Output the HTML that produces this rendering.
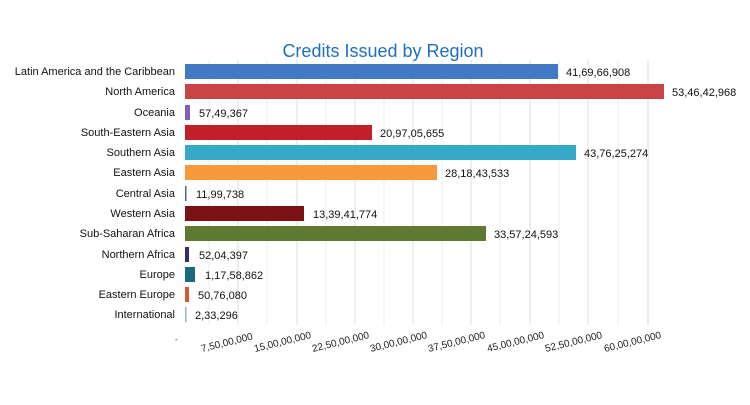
<!DOCTYPE html>
<html><head><style>
body{margin:0;width:750px;height:400px;background:#fff;overflow:hidden;font-family:"Liberation Sans",sans-serif}
</style></head><body>
<svg width="750" height="400" xmlns="http://www.w3.org/2000/svg" font-family="Liberation Sans, sans-serif">
<rect width="750" height="400" fill="#fff"/>
<text x="383" y="57" font-size="18" fill="#1f6fbf" text-anchor="middle">Credits Issued by Region</text>
<g stroke="#eeeeee" stroke-width="1">
<line x1="209" y1="60" x2="209" y2="325"/><line x1="267" y1="60" x2="267" y2="325"/><line x1="326" y1="60" x2="326" y2="325"/><line x1="384" y1="60" x2="384" y2="325"/><line x1="442" y1="60" x2="442" y2="325"/><line x1="500" y1="60" x2="500" y2="325"/><line x1="559" y1="60" x2="559" y2="325"/><line x1="618" y1="60" x2="618" y2="325"/>
</g>
<g stroke="#dddddd" stroke-width="1">
<line x1="238" y1="60" x2="238" y2="325"/><line x1="297" y1="60" x2="297" y2="325"/><line x1="355" y1="60" x2="355" y2="325"/><line x1="413" y1="60" x2="413" y2="325"/><line x1="471" y1="60" x2="471" y2="325"/><line x1="530" y1="60" x2="530" y2="325"/><line x1="588" y1="60" x2="588" y2="325"/><line x1="648" y1="60" x2="648" y2="325"/>
</g>
<g font-size="11" fill="#111" text-anchor="end">
<text x="175" y="75">Latin America and the Caribbean</text>
<text x="175" y="95">North America</text>
<text x="175" y="116">Oceania</text>
<text x="175" y="136">South-Eastern Asia</text>
<text x="175" y="156">Southern Asia</text>
<text x="175" y="176">Eastern Asia</text>
<text x="175" y="197">Central Asia</text>
<text x="175" y="217">Western Asia</text>
<text x="175" y="237">Sub-Saharan Africa</text>
<text x="175" y="258">Northern Africa</text>
<text x="175" y="278">Europe</text>
<text x="175" y="298">Eastern Europe</text>
<text x="175" y="318">International</text>
</g>
<g>
<rect x="185" y="64" width="373" height="15" fill="#4179c4"/>
<rect x="185" y="84" width="479" height="15" fill="#c94444"/>
<rect x="185" y="105" width="5" height="15" fill="#8461b0"/>
<rect x="185" y="125" width="187" height="15" fill="#c21f2a"/>
<rect x="185" y="145" width="391" height="15" fill="#38a8c8"/>
<rect x="185" y="165" width="252" height="15" fill="#f79a3c"/>
<rect x="185" y="186" width="1.5" height="15" fill="#4a6a90"/>
<rect x="185" y="206" width="119" height="15" fill="#7a1216"/>
<rect x="185" y="226" width="301" height="15" fill="#5e7a30"/>
<rect x="185" y="247" width="4" height="15" fill="#3d2a6e"/>
<rect x="185" y="267" width="10" height="15" fill="#1a6a7a"/>
<rect x="185" y="287" width="4" height="15" fill="#cf5a2a"/>
<rect x="185" y="307" width="1.5" height="15" fill="#9ab0d0"/>
</g>
<g font-size="11" fill="#111">
<text x="566" y="76">41,69,66,908</text>
<text x="672" y="96">53,46,42,968</text>
<text x="199" y="117">57,49,367</text>
<text x="380" y="137">20,97,05,655</text>
<text x="584" y="157">43,76,25,274</text>
<text x="445" y="177">28,18,43,533</text>
<text x="196" y="198">11,99,738</text>
<text x="313" y="218">13,39,41,774</text>
<text x="494" y="238">33,57,24,593</text>
<text x="199" y="259">52,04,397</text>
<text x="205" y="279">1,17,58,862</text>
<text x="198" y="299">50,76,080</text>
<text x="195" y="319">2,33,296</text>
</g>
<g font-size="10" fill="#222">
<text x="175" y="342" font-size="8">-</text>
<text transform="translate(202,352) rotate(-14)">7,50,00,000</text>
<text transform="translate(255,352) rotate(-14)">15,00,00,000</text>
<text transform="translate(313,352) rotate(-14)">22,50,00,000</text>
<text transform="translate(371,352) rotate(-14)">30,00,00,000</text>
<text transform="translate(429,352) rotate(-14)">37,50,00,000</text>
<text transform="translate(488,352) rotate(-14)">45,00,00,000</text>
<text transform="translate(546,352) rotate(-14)">52,50,00,000</text>
<text transform="translate(605,352) rotate(-14)">60,00,00,000</text>
</g>
</svg>
</body></html>
